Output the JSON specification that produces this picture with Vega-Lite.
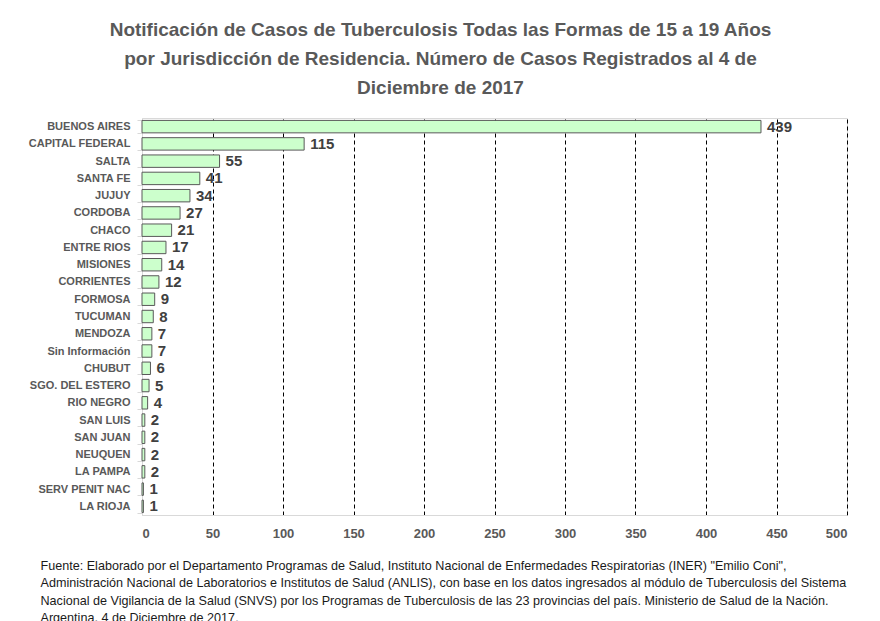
{
  "$schema": "https://vega.github.io/schema/vega-lite/v6.json",
  "width": 705,
  "height": 397,
  "autosize": {"type": "none"},
  "padding": {"left": 142, "top": 118, "right": 33, "bottom": 106},
  "background": "white",
  "title": {
    "text": ["Notificación de Casos de Tuberculosis Todas las Formas de 15 a 19 Años", "por Jurisdicción de Residencia. Número de Casos Registrados al 4 de", "Diciembre de 2017"],
    "font": "Liberation Sans",
    "fontSize": 19,
    "fontWeight": "bold",
    "color": "#595959",
    "anchor": "middle",
    "dx": -54,
    "offset": 14,
    "lineHeight": 29
  },
  "config": {
    "view": {"stroke": "#d9d9d9", "strokeWidth": 1}
  },
  "data": {
    "values": [
      {"jurisdiccion": "BUENOS AIRES", "casos": 439},
      {"jurisdiccion": "CAPITAL FEDERAL", "casos": 115},
      {"jurisdiccion": "SALTA", "casos": 55},
      {"jurisdiccion": "SANTA FE", "casos": 41},
      {"jurisdiccion": "JUJUY", "casos": 34},
      {"jurisdiccion": "CORDOBA", "casos": 27},
      {"jurisdiccion": "CHACO", "casos": 21},
      {"jurisdiccion": "ENTRE RIOS", "casos": 17},
      {"jurisdiccion": "MISIONES", "casos": 14},
      {"jurisdiccion": "CORRIENTES", "casos": 12},
      {"jurisdiccion": "FORMOSA", "casos": 9},
      {"jurisdiccion": "TUCUMAN", "casos": 8},
      {"jurisdiccion": "MENDOZA", "casos": 7},
      {"jurisdiccion": "Sin Información", "casos": 7},
      {"jurisdiccion": "CHUBUT", "casos": 6},
      {"jurisdiccion": "SGO. DEL ESTERO", "casos": 5},
      {"jurisdiccion": "RIO NEGRO", "casos": 4},
      {"jurisdiccion": "SAN LUIS", "casos": 2},
      {"jurisdiccion": "SAN JUAN", "casos": 2},
      {"jurisdiccion": "NEUQUEN", "casos": 2},
      {"jurisdiccion": "LA PAMPA", "casos": 2},
      {"jurisdiccion": "SERV PENIT NAC", "casos": 1},
      {"jurisdiccion": "LA RIOJA", "casos": 1}
    ]
  },
  "encoding": {
    "y": {
      "field": "jurisdiccion",
      "type": "nominal",
      "sort": null,
      "scale": {"paddingInner": 0.28, "paddingOuter": 0.14},
      "axis": {
        "title": null,
        "domainColor": "#d9d9d9",
        "tickColor": "#d9d9d9",
        "tickBand": "extent",
        "tickSize": 5,
        "labelPadding": 7,
        "labelFont": "Liberation Sans",
        "labelFontSize": 11,
        "labelFontWeight": "bold",
        "labelColor": "#595959"
      }
    },
    "x": {
      "field": "casos",
      "type": "quantitative",
      "scale": {"domain": [0, 500], "nice": false},
      "axis": {
        "values": [0, 50, 100, 150, 200, 250, 300, 350, 400, 450, 500],
        "grid": true,
        "gridDash": [4, 3],
        "gridColor": {"condition": {"test": "datum.value === 0", "value": "#d9d9d9"}, "value": "#000000"},
        "gridWidth": 1,
        "ticks": false,
        "domainColor": "#d9d9d9",
        "labelPadding": 12,
        "labelFont": "Liberation Sans",
        "labelFontSize": 13,
        "labelFontWeight": "bold",
        "labelColor": "#595959",
        "title": [
          "Fuente: Elaborado por el Departamento Programas de Salud, Instituto Nacional de Enfermedades Respiratorias (INER) \"Emilio Coni\",",
          "Administración Nacional de Laboratorios e Institutos de Salud (ANLIS), con base en los datos ingresados al módulo de Tuberculosis del Sistema",
          "Nacional de Vigilancia de la Salud (SNVS) por los Programas de Tuberculosis de las 23 provincias del país. Ministerio de Salud de la Nación.",
          "Argentina,  4 de Diciembre de 2017."
        ],
        "titleX": -102,
        "titleY": 44,
        "titleAlign": "left",
        "titleAnchor": "start",
        "titleBaseline": "top",
        "titleFont": "Liberation Sans",
        "titleFontSize": 12.6,
        "titleFontWeight": "normal",
        "titleColor": "#1a1a1a",
        "titleLineHeight": 17.5
      }
    }
  },
  "layer": [
    {
      "mark": {"type": "bar", "fill": "#ccffcc", "stroke": "#595959", "strokeWidth": 1}
    },
    {
      "mark": {"type": "text", "align": "left", "baseline": "middle", "dx": 6, "font": "Liberation Sans", "fontSize": 15, "fontWeight": "bold", "color": "#404040"},
      "encoding": {"text": {"field": "casos", "type": "quantitative"}}
    }
  ]
}
